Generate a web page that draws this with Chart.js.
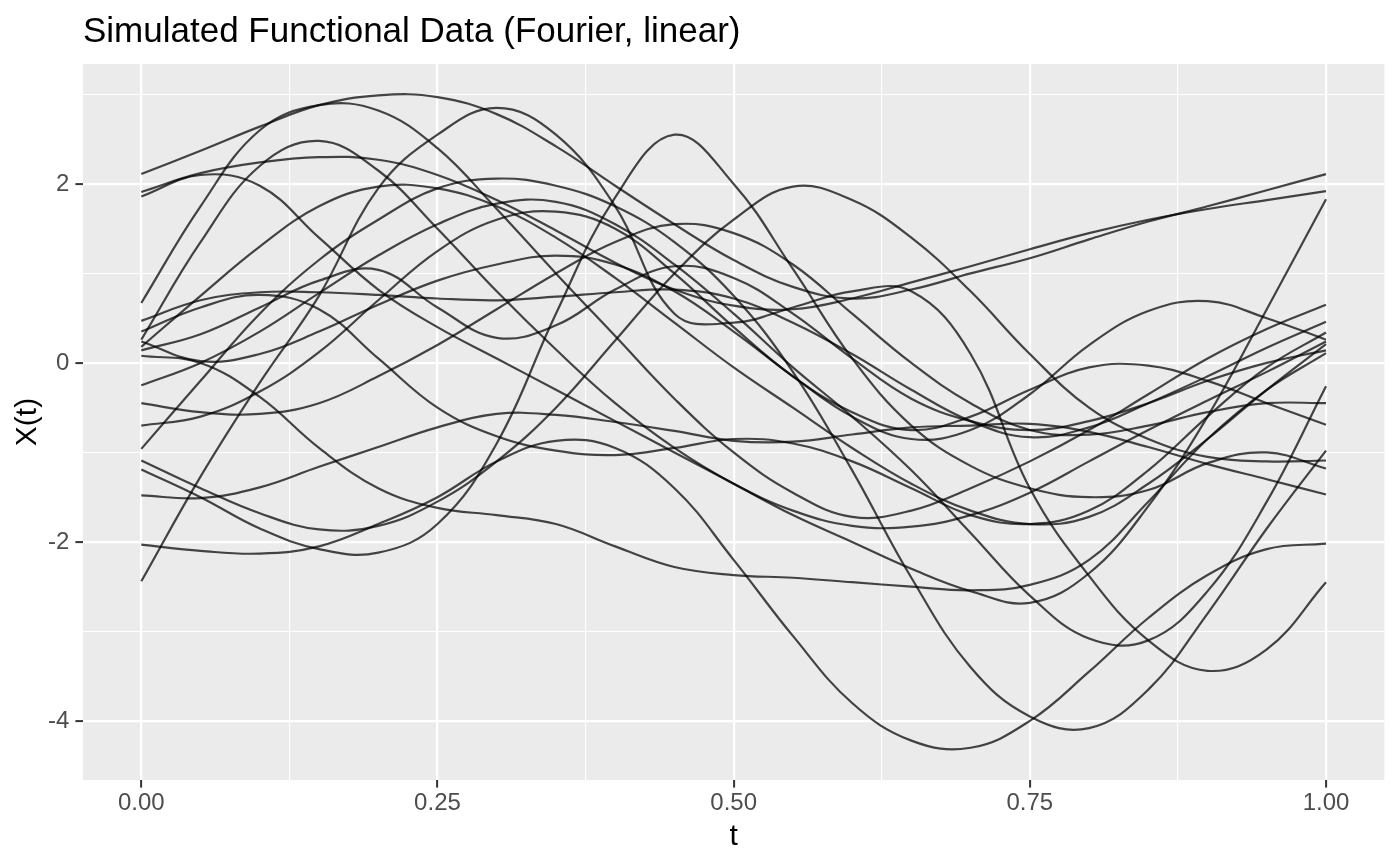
<!DOCTYPE html>
<html><head><meta charset="utf-8">
<script src="https://cdn.jsdelivr.net/npm/chart.js@4.4.0/dist/chart.umd.min.js"></script>
<style>html,body{margin:0;padding:0;background:#fff;}canvas{display:block;}</style>
</head><body>
<canvas id="c" width="1400" height="866"></canvas>
<script>
const tValues = [0,0.05,0.1,0.15,0.2,0.25,0.3,0.35,0.4,0.45,0.5,0.55,0.6,0.65,0.7,0.75,0.8,0.85,0.9,0.95,1];

const curve01 = [2.11,2.37,2.64,2.88,2.99,2.97,2.78,2.42,1.98,1.55,1.15,0.85,0.72,0.82,1.00,1.17,1.38,1.58,1.75,1.93,2.11];
const curve02 = [1.91,2.12,2.24,2.30,2.27,2.10,1.82,1.48,1.12,0.82,0.64,0.60,0.72,0.90,1.08,1.27,1.45,1.60,1.72,1.82,1.92];
const curve03 = [1.86,2.10,1.98,1.40,0.82,0.40,0.05,-0.30,-0.65,-1.00,-1.35,-1.70,-2.00,-2.30,-2.55,-2.68,-2.35,-1.60,-0.60,0.60,1.83];
const curve04 = [0.67,1.75,2.60,2.88,2.82,2.40,1.72,1.00,0.30,-0.40,-1.00,-1.45,-1.72,-1.65,-1.40,-1.10,-0.75,-0.35,0.05,0.38,0.65];
const curve05 = [0.47,0.70,0.79,0.79,0.76,0.72,0.70,0.74,0.79,0.82,0.72,0.45,0.10,-0.30,-0.65,-0.83,-0.72,-0.45,-0.15,0.17,0.46];
const curve06 = [0.35,0.62,0.76,0.60,0.05,-0.50,-0.82,-0.98,-1.03,-0.95,-0.85,-0.90,-1.10,-1.40,-1.70,-1.80,-1.65,-1.20,-0.60,-0.05,0.34];
const curve07 = [0.26,1.35,2.20,2.48,2.15,1.50,0.80,0.15,-0.45,-0.95,-1.35,-1.65,-1.82,-1.83,-1.70,-1.45,-1.10,-0.75,-0.42,-0.10,0.24];
const curve08 = [0.24,0.02,0.10,0.35,0.65,0.92,1.10,1.20,1.10,0.80,0.35,-0.15,-0.60,-0.85,-0.75,-0.35,0.20,0.58,0.69,0.50,0.26];
const curve09 = [0.18,0.75,1.30,1.75,1.97,1.95,1.75,1.40,0.95,0.45,-0.05,-0.50,-0.95,-1.35,-1.65,-1.80,-1.72,-1.35,-0.85,-0.30,0.21];
const curve10 = [0.14,0.32,0.62,0.92,1.04,0.62,0.28,0.42,0.82,1.08,0.95,0.55,0.05,-0.40,-0.65,-0.75,-0.65,-0.45,-0.20,0.00,0.14];
const curve11 = [0.08,0.00,-0.38,-0.95,-1.40,-1.62,-1.70,-1.80,-2.05,-2.28,-2.37,-2.40,-2.45,-2.50,-2.54,-2.48,-2.20,-1.55,-0.85,-0.30,0.11];
const curve12 = [-0.25,0.00,0.35,0.78,1.20,1.55,1.78,1.80,1.55,1.10,0.55,-0.05,-0.60,-1.20,-1.90,-2.60,-3.08,-3.10,-2.55,-1.55,-0.26];
const curve13 = [-0.45,-0.55,-0.57,-0.45,-0.15,0.20,0.60,1.00,1.35,1.55,1.45,1.10,0.55,0.00,-0.45,-0.75,-0.80,-0.70,-0.55,-0.45,-0.45];
const curve14 = [-0.70,-0.60,-0.32,0.12,0.70,1.25,1.60,1.69,1.50,1.00,0.40,-0.15,-0.55,-0.75,-0.60,-0.30,-0.05,-0.03,-0.20,-0.45,-0.69];
const curve15 = [-0.96,-0.20,0.55,1.15,1.60,1.95,2.06,1.98,1.75,1.35,0.75,-0.10,-1.20,-2.40,-3.40,-3.95,-4.08,-3.65,-2.80,-1.85,-0.98];
const curve16 = [-1.09,-1.40,-1.68,-1.86,-1.82,-1.55,-1.10,-0.50,0.25,1.00,1.60,1.97,1.82,1.40,0.80,0.10,-0.50,-0.85,-1.05,-1.10,-1.09];
const curve17 = [-1.19,-1.50,-1.85,-2.08,-2.12,-1.80,-0.90,0.55,1.85,2.55,2.00,1.05,0.05,-0.70,-1.15,-1.40,-1.50,-1.42,-1.12,-1.00,-1.18];
const curve18 = [-1.48,-1.51,-1.39,-1.16,-0.94,-0.72,-0.57,-0.58,-0.66,-0.76,-0.87,-0.88,-0.80,-0.72,-0.70,-0.68,-0.77,-0.94,-1.13,-1.30,-1.47];
const curve19 = [-2.03,-2.10,-2.13,-2.05,-1.80,-1.50,-1.10,-0.87,-0.95,-1.40,-2.20,-3.05,-3.80,-4.22,-4.30,-4.00,-3.45,-2.85,-2.37,-2.08,-2.02];
const curve20 = [-2.44,-1.27,-0.22,0.75,1.95,2.55,2.85,2.55,1.75,0.55,0.45,0.62,0.80,0.80,0.10,-1.40,-2.38,-3.10,-3.44,-3.20,-2.45];

const xMajorTicks = [0,0.25,0.5,0.75,1];
const xMinorTicks = [0.125,0.375,0.625,0.875];
const yMajorTicks = [-4,-2,0,2];
const yMinorTicks = [-3,-1,1,3];

const titleText = 'Simulated Functional Data (Fourier, linear)';
const xTitle = 't';
const yTitle = 'X(t)';

const curves = [curve01,curve02,curve03,curve04,curve05,curve06,curve07,curve08,curve09,curve10,
                curve11,curve12,curve13,curve14,curve15,curve16,curve17,curve18,curve19,curve20];

const datasets = curves.map((c, i) => ({
  label: 'curve ' + (i + 1),
  data: tValues.map((t, j) => ({x: t, y: c[j]})),
  borderColor: 'rgba(0,0,0,0.72)',
  borderWidth: 2.2,
  pointRadius: 0,
  tension: 0.4,
  fill: false
}));

const FONT = '"Liberation Sans", Arial, Helvetica, sans-serif';
const isIn = (arr, v) => arr.some(a => Math.abs(a - v) < 1e-9);

const panelBg = {
  id: 'panelBg',
  beforeDraw(chart) {
    const {ctx, chartArea: a} = chart;
    ctx.save();
    ctx.fillStyle = '#EBEBEB';
    ctx.fillRect(a.left, a.top, a.right - a.left, a.bottom - a.top);
    ctx.restore();
  }
};

new Chart(document.getElementById('c'), {
  type: 'line',
  data: { datasets },
  plugins: [panelBg],
  options: {
    responsive: false,
    devicePixelRatio: 1,
    animation: false,
    layout: { padding: { left: 0, right: 15.7, top: 0, bottom: 0 } },
    plugins: {
      legend: { display: false },
      tooltip: { enabled: false },
      title: {
        display: true, text: titleText, align: 'start', fullSize: false,
        color: '#000000',
        font: { family: FONT, size: 35, weight: 'normal', lineHeight: 1.0 },
        padding: { top: 15, bottom: 14 }
      }
    },
    scales: {
      x: {
        type: 'linear', min: -0.0492, max: 1.0492,
        afterBuildTicks: s => { s.ticks = [...xMinorTicks, ...xMajorTicks].sort((a,b)=>a-b).map(v => ({value: v})); },
        afterFit: s => { s.height = 86; },
        border: { display: false },
        grid: {
          color: '#FFFFFF',
          lineWidth: c => (c.tick && isIn(xMajorTicks, c.tick.value)) ? 2.2 : 1.1,
          drawTicks: true, tickLength: 7.6, tickWidth: 2,
          tickColor: c => (c.tick && isIn(xMajorTicks, c.tick.value)) ? '#333333' : 'rgba(0,0,0,0)'
        },
        ticks: {
          autoSkip: false, maxRotation: 0, padding: 1,
          color: '#4D4D4D', font: { family: FONT, size: 24, lineHeight: 1.2 },
          callback: v => isIn(xMajorTicks, v) ? v.toFixed(2) : ''
        },
        title: { display: true, text: xTitle, color: '#000000', font: { family: FONT, size: 30, lineHeight: 1.0 }, padding: { top: 0, bottom: 14 } }
      },
      y: {
        type: 'linear', min: -4.66, max: 3.34,
        afterBuildTicks: s => { s.ticks = [...yMinorTicks, ...yMajorTicks].sort((a,b)=>a-b).map(v => ({value: v})); },
        afterFit: s => { s.width = 83; },
        border: { display: false },
        grid: {
          color: '#FFFFFF',
          lineWidth: c => (c.tick && isIn(yMajorTicks, c.tick.value)) ? 2.2 : 1.1,
          drawTicks: true, tickLength: 7.6, tickWidth: 2,
          tickColor: c => (c.tick && isIn(yMajorTicks, c.tick.value)) ? '#333333' : 'rgba(0,0,0,0)'
        },
        ticks: {
          autoSkip: false, padding: 6,
          color: '#4D4D4D', font: { family: FONT, size: 24, lineHeight: 1.2 },
          callback: v => isIn(yMajorTicks, v) ? String(v) : ''
        },
        title: { display: true, text: yTitle, color: '#000000', font: { family: FONT, size: 30, lineHeight: 1.0 }, padding: { top: 13, bottom: 0 } }
      }
    }
  }
});
</script>
</body></html>
